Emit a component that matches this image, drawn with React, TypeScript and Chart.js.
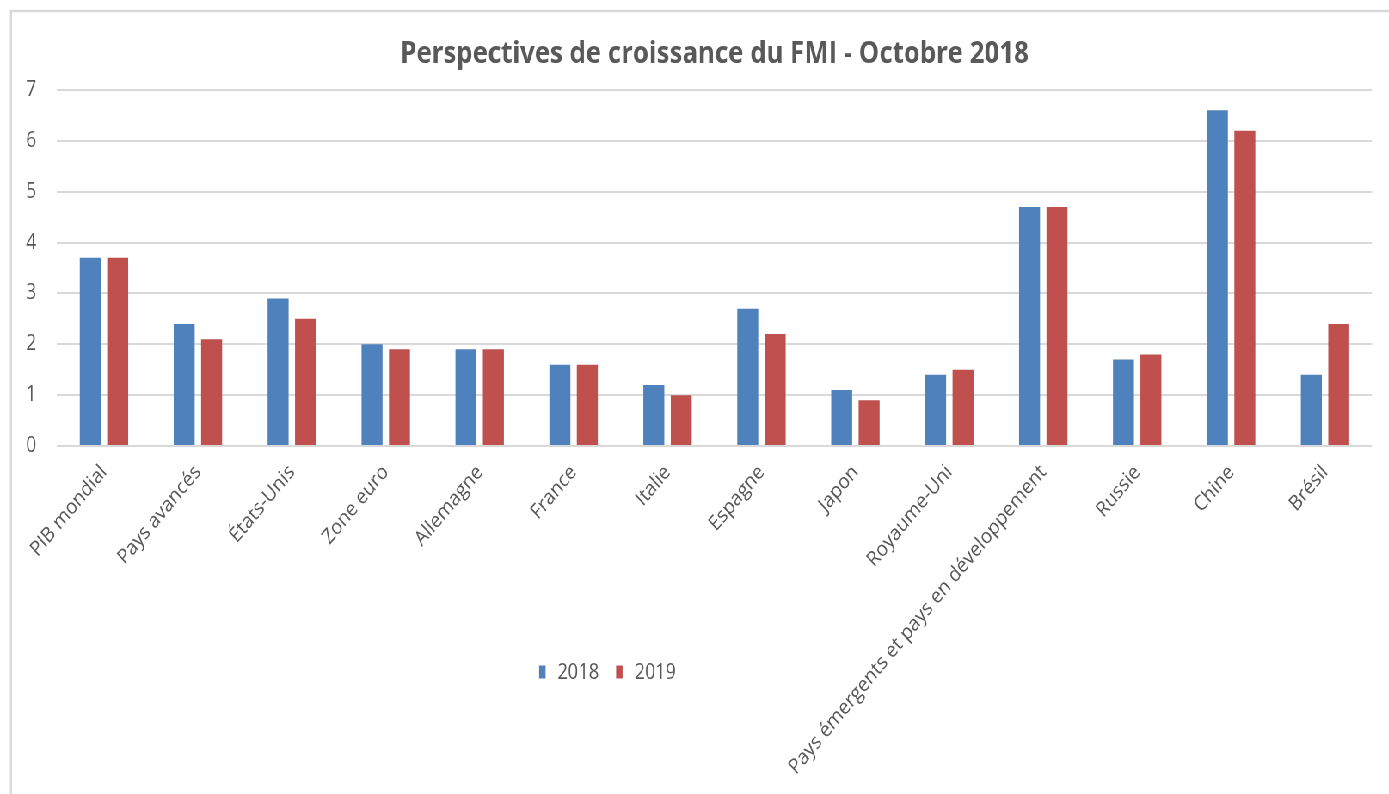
import React, { useEffect, useRef } from "react";
import { Chart, registerables } from "chart.js";

Chart.register(...registerables);

const chartTitle = "Perspectives de croissance du FMI - Octobre 2018";
const categories = [
  "PIB mondial",
  "Pays avancés",
  "États-Unis",
  "Zone euro",
  "Allemagne",
  "France",
  "Italie",
  "Espagne",
  "Japon",
  "Royaume-Uni",
  "Pays émergents et pays en développement",
  "Russie",
  "Chine",
  "Brésil",
];
const seriesLabels = ["2018", "2019"];
const values2018 = [3.7, 2.4, 2.9, 2.0, 1.9, 1.6, 1.2, 2.7, 1.1, 1.4, 4.7, 1.7, 6.6, 1.4];
const values2019 = [3.7, 2.1, 2.5, 1.9, 1.9, 1.6, 1.0, 2.2, 0.9, 1.5, 4.7, 1.8, 6.2, 2.4];
const yMin = 0;
const yMax = 7;
const yStep = 1;

const SX = 0.86;
const W = 1389;
const H = 794;
const LW = Math.round(W / SX);
const FONT = '"Open Sans", "Noto Sans", sans-serif';
const TEXT = "#595959";
const GRID = "#d9d9d9";
const COLORS = ["#4F81BD", "#C0504D"];

const framePlugin = {
  id: "frame",
  beforeDraw(chart: any) {
    const ctx = chart.ctx;
    ctx.save();
    ctx.fillStyle = "#ffffff";
    ctx.fillRect(0, 0, chart.width, chart.height);
    ctx.strokeStyle = "#d9d9d9";
    ctx.lineWidth = 2.5;
    ctx.beginPath();
    ctx.moveTo(11 / SX, chart.height);
    ctx.lineTo(11 / SX, 11);
    ctx.lineTo(chart.width, 11);
    ctx.stroke();
    ctx.restore();
  },
};

const legendPlugin = {
  id: "customLegend",
  afterDraw(chart: any) {
    const ctx = chart.ctx;
    ctx.save();
    ctx.font = `21px ${FONT}`;
    ctx.textBaseline = "middle";
    const boxW = 7.5;
    const boxH = 13;
    const gapText = 14;
    const gapItem = 20;
    const items = chart.data.datasets.map((d: any) => ({
      label: d.label,
      color: d.backgroundColor,
      tw: ctx.measureText(d.label).width,
    }));
    let total = 0;
    items.forEach((it: any, i: number) => {
      total += boxW + gapText + it.tw + (i < items.length - 1 ? gapItem : 0);
    });
    const cx = 607.5 / SX;
    const cy = 672;
    let x = cx - total / 2;
    items.forEach((it: any) => {
      ctx.fillStyle = it.color;
      ctx.fillRect(x, cy - boxH / 2, boxW, boxH);
      x += boxW + gapText;
      ctx.fillStyle = TEXT;
      ctx.textAlign = "left";
      ctx.fillText(it.label, x, cy + 1);
      x += it.tw + gapItem;
    });
    ctx.restore();
  },
};

export default function App() {
  const ref = useRef<HTMLCanvasElement | null>(null);

  useEffect(() => {
    if (!ref.current) return;
    const chart = new Chart(ref.current, {
      type: "bar",
      data: {
        labels: categories,
        datasets: [
          {
            label: seriesLabels[0],
            data: values2018,
            backgroundColor: COLORS[0],
            categoryPercentage: 0.584,
            barPercentage: 0.765,
          },
          {
            label: seriesLabels[1],
            data: values2019,
            backgroundColor: COLORS[1],
            categoryPercentage: 0.584,
            barPercentage: 0.765,
          },
        ],
      },
      options: {
        responsive: false,
        animation: false,
        layout: { padding: { left: 0, right: LW - 1372 / SX, top: 0, bottom: 0 } },
        plugins: {
          legend: { display: false },
          tooltip: { enabled: false },
          title: {
            display: true,
            fullSize: false,
            text: chartTitle,
            color: TEXT,
            font: { family: FONT, size: 30, weight: "bold" as any },
            padding: { top: 36, bottom: 18 },
          },
        },
        scales: {
          x: {
            grid: { display: false, drawTicks: false },
            border: { display: false },
            ticks: {
              color: TEXT,
              font: { family: FONT, size: 21 },
              autoSkip: false,
              maxRotation: 46,
              minRotation: 46,
              padding: 14,
            },
            afterFit(scale: any) {
              scale.height = H - 446;
            },
          },
          y: {
            min: yMin,
            max: yMax,
            grid: { color: GRID, lineWidth: 2, drawTicks: false },
            border: { display: false },
            ticks: {
              stepSize: yStep,
              color: TEXT,
              font: { family: FONT, size: 21 },
              padding: 24,
            },
            afterFit(scale: any) {
              scale.width = 57 / SX;
            },
          },
        },
      },
      plugins: [framePlugin, legendPlugin],
    });
    return () => chart.destroy();
  }, []);

  return (
    <div
      style={{
        position: "fixed",
        left: 0,
        top: 0,
        width: LW,
        height: H,
        transform: `scaleX(${SX})`,
        transformOrigin: "0 0",
        background: "#fff",
      }}
    >
      <canvas ref={ref} width={LW} height={H} style={{ width: LW, height: H, display: "block" }} />
    </div>
  );
}
